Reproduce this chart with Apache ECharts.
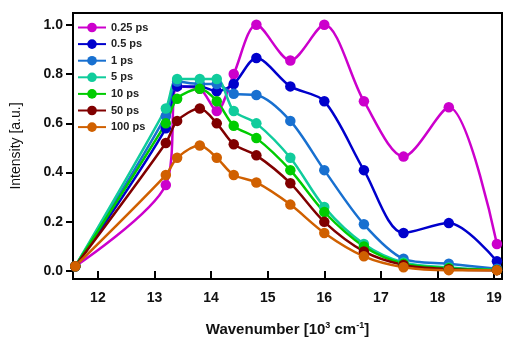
<!DOCTYPE html>
<html><head><meta charset="utf-8">
<script src="https://cdn.jsdelivr.net/npm/echarts@6/dist/echarts.min.js"></script>
<style>html,body{margin:0;padding:0;background:#fff}#c{width:505px;height:342px}</style>
</head><body><div id="c"></div>
<script>
const wavenumbers = [11.6, 13.2, 13.4, 13.8, 14.1, 14.4, 14.8, 15.4, 16.0, 16.7, 17.4, 18.2, 19.05];
const seriesNames = ['0.25 ps', '0.5 ps', '1 ps', '5 ps', '10 ps', '50 ps', '100 ps'];
const s025 = [0.02, 0.35, 0.75, 0.74, 0.65, 0.80, 1.00, 0.855, 1.00, 0.69, 0.465, 0.665, 0.11];
const s05  = [0.02, 0.58, 0.75, 0.75, 0.73, 0.76, 0.865, 0.75, 0.69, 0.41, 0.155, 0.195, 0.04];
const s1   = [0.02, 0.63, 0.77, 0.76, 0.76, 0.72, 0.715, 0.61, 0.41, 0.19, 0.05, 0.03, 0.01];
const s5   = [0.02, 0.66, 0.78, 0.78, 0.78, 0.65, 0.60, 0.46, 0.26, 0.11, 0.035, 0.015, 0.005];
const s10  = [0.02, 0.60, 0.70, 0.74, 0.69, 0.59, 0.54, 0.41, 0.24, 0.10, 0.03, 0.012, 0.005];
const s50  = [0.02, 0.52, 0.61, 0.66, 0.60, 0.515, 0.47, 0.357, 0.20, 0.08, 0.025, 0.008, 0.004];
const s100 = [0.02, 0.39, 0.46, 0.51, 0.46, 0.39, 0.36, 0.27, 0.155, 0.06, 0.016, 0.004, 0.004];
const xTicks = [12, 13, 14, 15, 16, 17, 18, 19];
const yTicks = [0, 0.2, 0.4, 0.6, 0.8, 1.0];
const colors = ['#CC00CC', '#0000CC', '#1870D0', '#10CC9C', '#00CC00', '#800000', '#D06000'];

const allData = [s025, s05, s1, s5, s10, s50, s100];
const chart = echarts.init(document.getElementById('c'));
chart.setOption({
  animation: false,
  grid: {left: 73, right: 3, top: 13, bottom: 57, show: true, borderColor: '#000', borderWidth: 2, backgroundColor: 'transparent'},
  legend: {
    orient: 'vertical', left: 72, top: 17, itemGap: 5.6, itemWidth: 28, itemHeight: 12,
    textStyle: {fontFamily: 'Liberation Sans, Arial', fontWeight: 'bold', fontSize: 11, color: '#222'},
    data: seriesNames
  },
  xAxis: {
    type: 'value', min: 11.56, max: 19.14,
    name: 'Wavenumber [10{sup|3} cm{sup|-1}]', nameLocation: 'middle', nameGap: 42,
    nameTextStyle: {fontFamily: 'Liberation Sans, Arial', fontWeight: 'bold', fontSize: 15, color: '#111',
      rich: {sup: {fontSize: 9, fontWeight: 'bold', verticalAlign: 'top', padding: [0,0,8,0], fontFamily: 'Liberation Sans, Arial'}}},
    axisLine: {show: false},
    axisTick: {show: true, length: 7, lineStyle: {color: '#000', width: 2}, customValues: xTicks},
    axisLabel: {customValues: xTicks, margin: 12, fontFamily: 'Liberation Sans, Arial', fontWeight: 'bold', fontSize: 14, color: '#111'},
    splitLine: {show: false}
  },
  yAxis: {
    type: 'value', min: -0.032, max: 1.048,
    name: 'Intensity [a.u.]', nameLocation: 'middle', nameGap: 50,
    nameTextStyle: {fontFamily: 'Liberation Sans, Arial', fontSize: 14, color: '#111'},
    axisLine: {show: false},
    axisTick: {show: true, length: 7, lineStyle: {color: '#000', width: 2}, customValues: yTicks},
    axisLabel: {customValues: yTicks, margin: 10, formatter: v => v.toFixed(1), fontFamily: 'Liberation Sans, Arial', fontWeight: 'bold', fontSize: 14, color: '#111'},
    splitLine: {show: false}
  },
  series: seriesNames.map((n, i) => ({
    name: n, type: 'line', smooth: 0.3,
    data: wavenumbers.map((x, j) => [x, allData[i][j]]),
    symbol: 'circle', symbolSize: 10.5,
    lineStyle: {width: 2.5, color: colors[i]},
    itemStyle: {color: colors[i]},
    color: colors[i]
  }))
});
</script></body></html>
